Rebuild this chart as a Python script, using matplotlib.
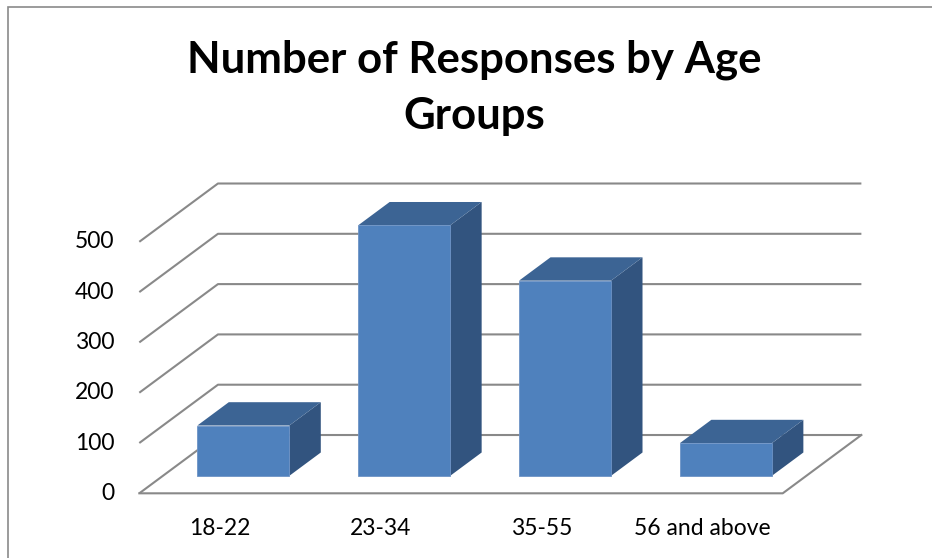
import matplotlib
matplotlib.use("Agg")
import matplotlib.pyplot as plt
from matplotlib.patches import Polygon, Rectangle

# Data
categories = ["18-22", "23-34", "35-55", "56 and above"]
responses = [100, 498, 388, 65]
value_ticks = [0, 100, 200, 300, 400, 500]
title = "Number of Responses by Age\nGroups"

# Oblique 3-D projection: depth d in [0, 1] shifts a point right and up
DEPTH_DX = 0.489     # category units per full depth
DEPTH_DY = 115.9     # value units per full depth
BAR_HALF = 0.286     # half bar width, category units
BAR_D0, BAR_D1 = 0.30, 0.70

def proj(u, v, d):
    return (u + d * DEPTH_DX, v + d * DEPTH_DY)

FRONT = "#4F81BD"
TOP = "#3C6494"
SIDE = "#32547F"
GRID = "#898989"

fig = plt.figure(figsize=(9.32, 5.58), dpi=100)
ax = fig.add_axes([0, 0, 1, 1])
ax.set_xlim(-0.866, 4.928)
ax.set_ylim(-128.6, 980.7)
ax.axis("off")

n = len(categories)

# chart border (top and left edges visible)
fig.patches.append(Rectangle((7.5 / 932, -0.05), 1.2, (551.5 / 558) + 0.05,
                             transform=fig.transFigure, fill=False,
                             edgecolor="#8a8a8a", linewidth=1.2))

# floor outline and wall gridlines
for v in value_ticks:
    xs, ys = zip(proj(0, v, 0), proj(0, v, 1), proj(n, v, 1))
    ax.plot(xs, ys, color=GRID, lw=1.5, solid_capstyle="butt", zorder=1)
xs, ys = zip(proj(0, 0, 0), proj(n, 0, 0), proj(n, 0, 1))
ax.plot(xs, ys, color=GRID, lw=1.5, zorder=1)

# bars
for i, h in enumerate(responses):
    u0, u1 = i + 0.5 - BAR_HALF, i + 0.5 + BAR_HALF
    front = [proj(u0, 0, BAR_D0), proj(u1, 0, BAR_D0), proj(u1, h, BAR_D0), proj(u0, h, BAR_D0)]
    top = [proj(u0, h, BAR_D0), proj(u1, h, BAR_D0), proj(u1, h, BAR_D1), proj(u0, h, BAR_D1)]
    side = [proj(u1, 0, BAR_D0), proj(u1, 0, BAR_D1), proj(u1, h, BAR_D1), proj(u1, h, BAR_D0)]
    ax.add_patch(Polygon(side, closed=True, facecolor=SIDE, edgecolor="none", zorder=3))
    ax.add_patch(Polygon(top, closed=True, facecolor=TOP, edgecolor="none", zorder=3))
    ax.add_patch(Polygon(front, closed=True, facecolor=FRONT, edgecolor="#6d93c6", lw=0.6, zorder=4))

LABEL_FONT = ["Lato", "DejaVu Sans"]

# value axis labels
for v in value_ticks:
    ax.annotate(str(v), xy=proj(0, v, 0), xytext=(-25, 0), textcoords="offset pixels",
                ha="right", va="center", fontsize=16.5, family=LABEL_FONT, color="#000000")

# category labels
for i, c in enumerate(categories):
    ax.annotate(c, xy=proj(i + 0.5, 0, 0), xytext=(0, -35), textcoords="offset pixels",
                ha="center", va="center", fontsize=16.5, family=LABEL_FONT, color="#000000")

# title
fig.text(474 / 932, 1 - 72.3 / 558, title.split("\n")[0], ha="center", va="baseline",
         fontsize=31.5, fontweight="bold", family=LABEL_FONT)
fig.text(474 / 932, 1 - 129.3 / 558, title.split("\n")[1], ha="center", va="baseline",
         fontsize=31.5, fontweight="bold", family=LABEL_FONT)

fig.savefig("out.png", dpi=100, facecolor="white")
